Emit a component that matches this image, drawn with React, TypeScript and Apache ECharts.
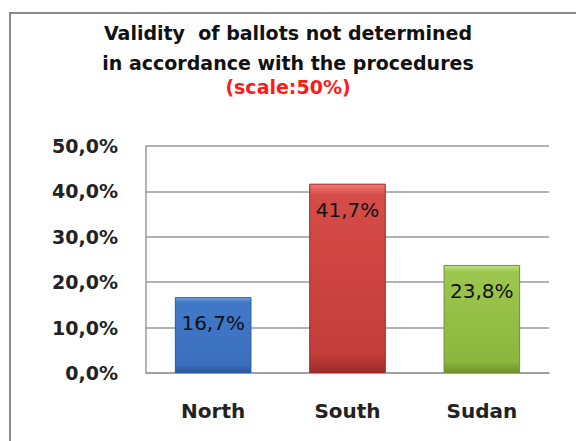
import React, { useEffect, useRef } from "react";
import * as echarts from "echarts";

const categories = ["North", "South", "Sudan"];
const values = [16.7, 41.7, 23.8];
const titleLines = ["Validity  of ballots not determined", "in accordance with the procedures"];
const subtitle = "(scale:50%)";
const yMin = 0;
const yMax = 50;
const yStep = 10;

const barColors = [
  ["#7aa8e6", "#4179c9", "#3b6fbd", "#2a579a"],
  ["#f07a76", "#d54c49", "#c53d3a", "#9c2b29"],
  ["#c3e27f", "#9cc64e", "#8db63f", "#6f922b"],
];

const fmt = (v: number) => v.toFixed(1).replace(".", ",") + "%";

export default function App() {
  const ref = useRef<HTMLDivElement>(null);
  useEffect(() => {
    if (!ref.current) return;
    const chart = echarts.init(ref.current, undefined, { renderer: "svg" });
    chart.setOption({
      animation: false,
      backgroundColor: "#ffffff",
      graphic: [
        {
          type: "rect",
          shape: { x: 10, y: 13, width: 600, height: 460 },
          style: { fill: "none", stroke: "#8a8a8a", lineWidth: 2 },
          silent: true,
          z: -10,
        },
      ],
      title: {
        text: titleLines.join("\n"),
        subtext: subtitle,
        left: "center",
        top: 13,
        itemGap: 0,
        textStyle: {
          fontFamily: "DejaVu Sans",
          fontWeight: "bold",
          fontSize: 19,
          lineHeight: 30,
          color: "#111111",
        },
        subtextStyle: {
          fontFamily: "DejaVu Sans",
          fontWeight: "bold",
          fontSize: 19,
          lineHeight: 18,
          color: "#ff1a1a",
        },
      },
      grid: { left: 146, right: 27, top: 146, bottom: 68 },
      xAxis: {
        type: "category",
        data: categories,
        axisLine: { lineStyle: { color: "#9a9a9a", width: 1.5 } },
        axisTick: { show: false },
        axisLabel: {
          margin: 28,
          fontFamily: "DejaVu Sans",
          fontWeight: "bold",
          fontSize: 20,
          color: "#222222",
        },
      },
      yAxis: {
        type: "value",
        min: yMin,
        max: yMax,
        interval: yStep,
        axisLine: { show: true, lineStyle: { color: "#9a9a9a", width: 1.5 } },
        axisTick: { show: false },
        splitLine: { lineStyle: { color: "#9a9a9a", width: 1.5 } },
        axisLabel: {
          margin: 28,
          fontFamily: "DejaVu Sans",
          fontWeight: "bold",
          fontSize: 19,
          color: "#222222",
          formatter: (v: number) => fmt(v),
        },
      },
      series: [
        {
          type: "bar",
          barWidth: "57%",
          data: values.map((v, i) => ({
            value: v,
            itemStyle: {
              color: new echarts.graphic.LinearGradient(0, 0, 0, 1, [
                { offset: 0, color: barColors[i][0] },
                { offset: 0.06, color: barColors[i][1] },
                { offset: 0.9, color: barColors[i][2] },
                { offset: 1, color: barColors[i][3] },
              ]),
              borderColor: barColors[i][3],
              borderWidth: 1,
            },
          })),
          label: {
            show: true,
            position: "insideTop",
            distance: 16,
            fontFamily: "DejaVu Sans",
            fontSize: 20,
            color: "#111111",
            formatter: (p: any) => fmt(p.value),
          },
        },
      ],
    });
    return () => chart.dispose();
  }, []);
  return (
    <div
      ref={ref}
      style={{ position: "fixed", left: 0, top: 0, width: 576, height: 441 }}
    />
  );
}
